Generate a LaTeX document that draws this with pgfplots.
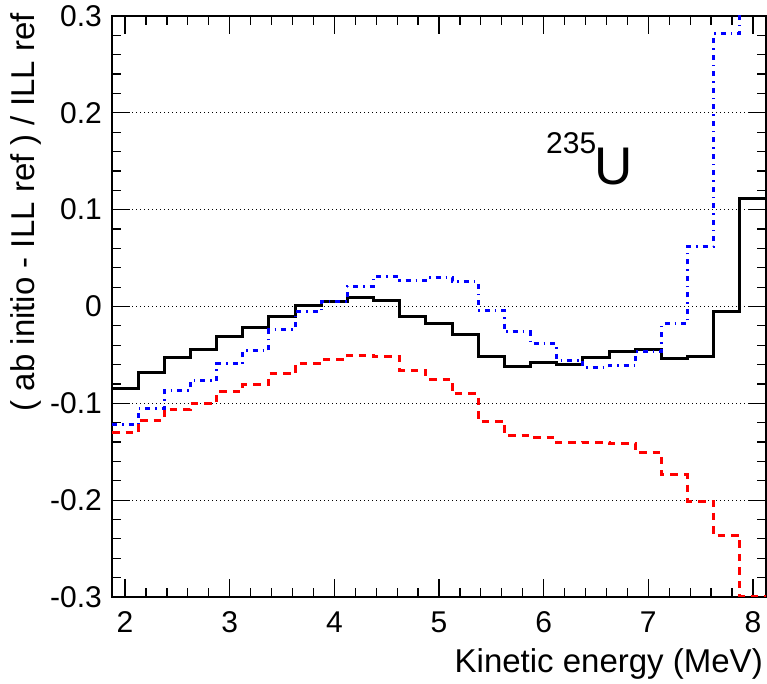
\documentclass[border=0pt]{standalone}
\usepackage{pgfplots}
\pgfplotsset{compat=1.18}
\usepackage{pgfplotstable}
\usepackage{fontspec}
\setmainfont{Liberation Sans}

% left bin edges (0.25 MeV bins), last row closes the final bin
\pgfplotstableread{
x      black    blue     red
1.875  -0.0844  -0.1218  -0.1300
2.125  -0.0682  -0.1052  -0.1173
2.375  -0.0526  -0.0869  -0.1059
2.625  -0.0443  -0.0768  -0.0997
2.875  -0.0308  -0.0592  -0.0875
3.125  -0.0221  -0.0454  -0.0807
3.375  -0.0104  -0.0239  -0.0696
3.625   0.0010  -0.0055  -0.0592
3.875   0.0055   0.0055  -0.0550
4.125   0.0093   0.0211  -0.0502
4.375   0.0059   0.0312  -0.0519
4.625  -0.0101   0.0273  -0.0661
4.875  -0.0180   0.0304  -0.0751
5.125  -0.0288   0.0256  -0.0903
5.375  -0.0519  -0.0038  -0.1184
5.625  -0.0616  -0.0263  -0.1329
5.875  -0.0574  -0.0387  -0.1350
6.125  -0.0595  -0.0553  -0.1405
6.375  -0.0522  -0.0630  -0.1402
6.625  -0.0460  -0.0610  -0.1412
6.875  -0.0443  -0.0464  -0.1503
7.125  -0.0540  -0.0180  -0.1740
7.375  -0.0519   0.0620  -0.2011
7.625  -0.0055   0.2817  -0.2367
7.875   0.1120   0.4000  -0.3000
8.125   0.1120   0.4000  -0.3000
}\spectra

\begin{document}
\begin{tikzpicture}
  \useasboundingbox (-112pt,-87pt) rectangle (655pt,597pt);
  \begin{axis}[
      at={(0pt,0pt)}, anchor=south west,
      scale only axis,
      width=654pt, height=581pt,
      xmin=1.875, xmax=8.125,
      ymin=-0.3, ymax=0.3,
      xtick={2,3,4,5,6,7,8},
      xticklabels={2,3,4,5,6,7,8},
      ytick={-0.3,-0.2,-0.1,0,0.1,0.2,0.3},
      yticklabels={-0.3,-0.2,-0.1,0,0.1,0.2,0.3},
      minor x tick num=4,
      minor y tick num=4,
      tick align=inside,
      major tick length=18pt,
      minor tick length=9pt,
      every tick/.style={black, line width=1.2pt},
      axis line style={line width=1.5pt},
      ymajorgrids,
      major grid style={black, line width=1.2pt, dash pattern=on 1.3pt off 2.7pt},
      tick label style={font=\fontsize{30}{32}\selectfont},
      xticklabel style={anchor=base, yshift=-36pt},
      yticklabel style={anchor=east, inner sep=0pt, xshift=-10pt},
    ]
    \addplot[const plot, black, line width=3pt] table[x=x, y=black] {\spectra};
    \addplot[const plot, blue, line width=3pt,
      dash pattern=on 5pt off 5pt on 1.5pt off 5pt] table[x=x, y=blue] {\spectra};
    \addplot[const plot, red, line width=3pt,
      dash pattern=on 7.5pt off 6pt] table[x=x, y=red] {\spectra};
  \end{axis}
  \node[rotate=90, anchor=base east, inner sep=0pt,
    font=\fontsize{33}{35}\selectfont] at (-77pt,584pt) {( ab initio - ILL ref ) / ILL ref};
  \node[anchor=base east, inner sep=0pt,
    font=\fontsize{33}{35}\selectfont] at (651pt,-75pt) {Kinetic energy (MeV)};
  \node[anchor=base west, inner sep=0pt,
    font=\fontsize{30}{32}\selectfont] at (434pt,443pt) {235};
  \node[anchor=base west, inner sep=0pt,
    font=\fontsize{53}{55}\selectfont] at (482pt,412pt) {U};
\end{tikzpicture}
\end{document}
